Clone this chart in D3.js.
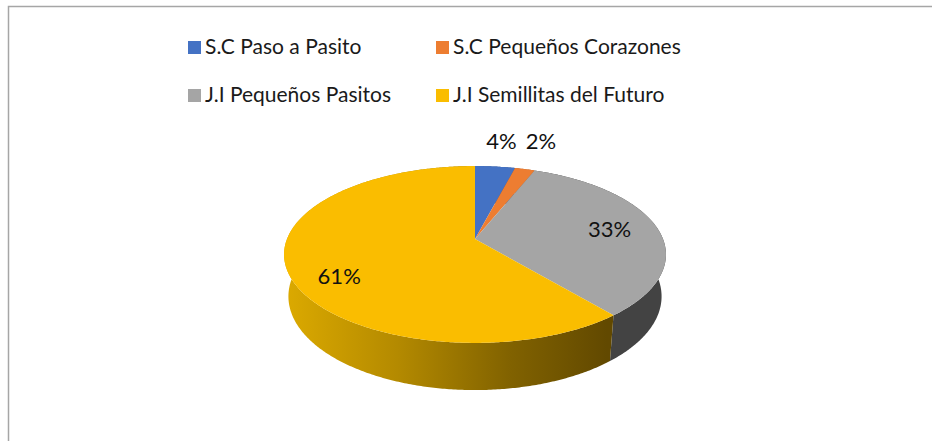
<!DOCTYPE html>
<html lang="es">
<head>
<meta charset="utf-8">
<title>Pie 3D</title>
<script src="https://cdn.jsdelivr.net/npm/d3@7"></script>
<style>
  body { margin: 0; background: #fff; }
  text { font-family: Lato, "Noto Sans", sans-serif; }
</style>
</head>
<body>
<div id="chart"></div>
<script>
// datos
var categorias = ["S.C Paso a Pasito", "S.C Pequeños Corazones", "J.I Pequeños Pasitos", "J.I Semillitas del Futuro"];
var valores = [4, 2, 33, 61];
var colores = ["#4472c4", "#ed7d31", "#a5a5a5", "#fabd00"];
var coloresLado = ["#2f528f", "#ae5a21", "#434343", "url(#gradAmarillo)"];

var w = 932, h = 441;
var svg = d3.select("#chart").append("svg")
            .attr("width", w)
            .attr("height", h);

// marco del grafico
svg.append("path")
   .attr("d", "M8.5," + h + "V6.5H" + w)
   .attr("fill", "none")
   .attr("stroke", "#a6a6a6")
   .attr("stroke-width", 1.5);

// degradado del lado amarillo
var grad = svg.append("defs").append("linearGradient")
              .attr("id", "gradAmarillo")
              .attr("gradientUnits", "userSpaceOnUse")
              .attr("x1", 284).attr("x2", 607)
              .attr("y1", 0).attr("y2", 0);
grad.append("stop").attr("offset", 0).attr("stop-color", "#dcaa00");
grad.append("stop").attr("offset", 0.35).attr("stop-color", "#b48a00");
grad.append("stop").attr("offset", 0.7).attr("stop-color", "#816200");
grad.append("stop").attr("offset", 1).attr("stop-color", "#624900");

// proyeccion en perspectiva del disco
var cx = 475, cy = 239;
var escala = 188;          // px por radio
var rho = 0.1966;          // radio / distancia camara
var inc = Math.asin(0.456);
var sinA = Math.sin(inc), cosA = Math.cos(inc);
var grosor = 0.253;        // altura del disco en radios

function proj(phi, r, y) {
    var X = r * Math.sin(phi), Z = -r * Math.cos(phi);
    var d = 1 - rho * (y * sinA + Z * cosA);
    var u = y * cosA - Z * sinA;
    return [cx + escala * X / d, cy - escala * u / d];
}

function arco(a0, a1, y) {
    var n = Math.max(2, Math.ceil((a1 - a0) / 0.01));
    return d3.range(n + 1).map(function (i) {
        return proj(a0 + (a1 - a0) * i / n, 1, y);
    });
}

var pie = d3.pie().sort(null).value(function (d) { return d; });
var arcos = pie(valores);
var linea = d3.line();

// lados, luego tapas
svg.append("g").selectAll("path")
   .data(arcos)
   .join("path")
   .attr("d", function (d) {
       var arriba = arco(d.startAngle, d.endAngle, 0);
       var abajo = arco(d.startAngle, d.endAngle, -grosor).reverse();
       return linea(arriba.concat(abajo)) + "Z";
   })
   .attr("fill", function (d, i) { return coloresLado[i]; });

svg.append("g").selectAll("path")
   .data(arcos)
   .join("path")
   .attr("d", function (d) {
       return linea([proj(0, 0, 0)].concat(arco(d.startAngle, d.endAngle, 0))) + "Z";
   })
   .attr("fill", function (d, i) { return colores[i]; });

// etiquetas de porcentaje
var total = d3.sum(valores);
var yArriba = proj(0, 1, 0)[1];
svg.append("g").selectAll("text")
   .data(arcos)
   .join("text")
   .attr("text-anchor", "middle")
   .attr("font-size", 22)
   .attr("fill", "#111")
   .each(function (d) {
       var mid = (d.startAngle + d.endAngle) / 2;
       var fuera = d.value / total < 0.1;
       var p = fuera ? proj(mid, 1.4, 0)
                     : proj(mid, 0.74, -grosor * Math.max(0, -Math.cos(mid)));
       d3.select(this)
         .attr("x", p[0])
         .attr("y", fuera ? yArriba - 17 : p[1] + 8);
   })
   .text(function (d) { return Math.round(d.value / total * 100) + "%"; });

// leyenda
var leyenda = svg.append("g");
var colX = d3.scaleOrdinal().domain([0, 1]).range([188, 436]);
var filaY = d3.scaleOrdinal().domain([0, 1]).range([54, 102]);
var item = leyenda.selectAll("g")
   .data(categorias)
   .join("g")
   .attr("transform", function (d, i) {
       return "translate(" + colX(i % 2) + "," + filaY(Math.floor(i / 2)) + ")";
   });
item.append("rect")
    .attr("x", 0).attr("y", -13)
    .attr("width", 13).attr("height", 13)
    .attr("fill", function (d, i) { return colores[i]; });
item.append("text")
    .attr("x", 17)
    .attr("y", 0)
    .attr("font-size", 21)
    .attr("fill", "#1a1a1a")
    .text(function (d) { return d; });
</script>
</body>
</html>
